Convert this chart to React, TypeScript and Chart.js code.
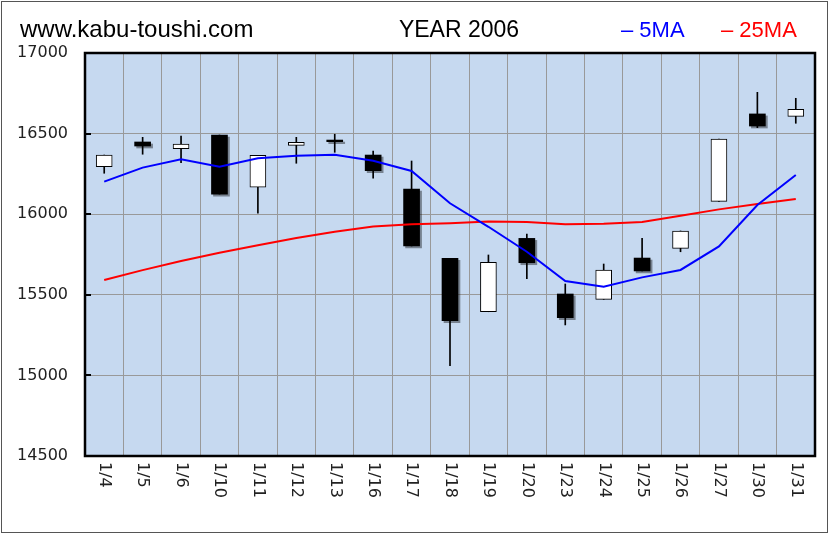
import React, { useEffect, useRef } from 'react';
import { Chart, registerables } from 'chart.js';

Chart.register(...registerables);

const categories = ['1/4', '1/5', '1/6', '1/10', '1/11', '1/12', '1/13', '1/16', '1/17', '1/18', '1/19', '1/20', '1/23', '1/24', '1/25', '1/26', '1/27', '1/30', '1/31'];
const openPrices = [16295, 16448, 16406, 16491, 16167, 16427, 16460, 16367, 16156, 15726, 15395, 15850, 15505, 15472, 15728, 15788, 16080, 16622, 16607];
const closePrices = [16367, 16423, 16435, 16125, 16365, 16446, 16450, 16270, 15803, 15339, 15702, 15699, 15358, 15654, 15648, 15896, 16466, 16547, 16651];
const highPrices = [16367, 16477, 16485, 16491, 16365, 16477, 16496, 16392, 16330, 15726, 15747, 15877, 15567, 15691, 15850, 15896, 16466, 16756, 16719];
const lowPrices = [16254, 16372, 16320, 16125, 16006, 16316, 16384, 16223, 15803, 15060, 15395, 15600, 15313, 15472, 15648, 15767, 16080, 16537, 16564];
const ma5 = [16202, 16289, 16341, 16295, 16347, 16363, 16369, 16332, 16268, 16068, 15922, 15767, 15586, 15550, 15608, 15654, 15800, 16057, 16243];
const ma25 = [15592, 15653, 15710, 15761, 15807, 15853, 15891, 15923, 15937, 15944, 15954, 15952, 15937, 15941, 15952, 15991, 16030, 16063, 16094];
const yTicks = [14500, 15000, 15500, 16000, 16500, 17000];

const siteTitle = 'www.kabu-toushi.com';
const chartTitle = 'YEAR 2006';
const legend5 = '– 5MA';
const legend25 = '– 25MA';

const W = 829;
const H = 534;

const decorPlugin = {
  id: 'decor',
  beforeDraw(chart: any) {
    const { ctx, chartArea: a } = chart;
    ctx.save();
    ctx.fillStyle = '#ffffff';
    ctx.fillRect(0, 0, chart.width, chart.height);
    ctx.fillStyle = '#c6d9f0';
    ctx.fillRect(a.left, a.top, a.right - a.left, a.bottom - a.top);
    ctx.restore();
  },
  beforeDatasetDraw(chart: any, args: any) {
    const ds = chart.data.datasets[args.index];
    if (ds.label === 'down') {
      const ctx = chart.ctx;
      ctx.save();
      ctx.shadowColor = 'rgba(0,0,0,0.4)';
      ctx.shadowOffsetX = 2;
      ctx.shadowOffsetY = 2;
      ctx.shadowBlur = 0;
    }
  },
  afterDatasetDraw(chart: any, args: any) {
    const ds = chart.data.datasets[args.index];
    if (ds.label === 'down') {
      chart.ctx.restore();
    }
  },
  afterDraw(chart: any) {
    const { ctx, chartArea: a, scales } = chart;
    const xs = scales.x;
    const ys = scales.y;
    ctx.save();
    // plot border
    ctx.strokeStyle = '#000000';
    ctx.lineWidth = 2.5;
    ctx.strokeRect(a.left, a.top, a.right - a.left, a.bottom - a.top);
    // inner tick marks on y axis
    ctx.lineWidth = 2;
    yTicks.forEach((v) => {
      const y = Math.round(ys.getPixelForValue(v));
      ctx.beginPath();
      ctx.moveTo(a.left, y);
      ctx.lineTo(a.left + 6, y);
      ctx.stroke();
    });
    // rotated x labels
    ctx.fillStyle = '#222222';
    ctx.font = '16px "DejaVu Sans"';
    ctx.textAlign = 'left';
    ctx.textBaseline = 'middle';
    categories.forEach((c, i) => {
      const x = xs.getPixelForValue(i);
      ctx.save();
      ctx.translate(x, a.bottom + 6);
      ctx.rotate(Math.PI / 2);
      ctx.fillText(c, 0, 0);
      ctx.restore();
    });
    // titles
    ctx.textBaseline = 'alphabetic';
    ctx.fillStyle = '#000000';
    ctx.font = '24px "Liberation Sans"';
    ctx.textAlign = 'left';
    ctx.fillText(siteTitle, 20, 37);
    ctx.font = '23px "Liberation Sans"';
    ctx.textAlign = 'center';
    ctx.fillText(chartTitle, 459, 37);
    ctx.font = '22px "Liberation Sans"';
    ctx.textAlign = 'left';
    ctx.fillStyle = '#0000ff';
    ctx.fillText(legend5, 621, 37);
    ctx.fillStyle = '#ff0000';
    ctx.fillText(legend25, 721, 37);
    // outer frame
    ctx.strokeStyle = '#555555';
    ctx.lineWidth = 1;
    ctx.strokeRect(1.5, 1.5, W - 3, H - 3);
    ctx.restore();
  },
};

export default function App() {
  const ref = useRef<HTMLCanvasElement | null>(null);

  useEffect(() => {
    if (!ref.current) return;
    const upBodies = categories.map((_, i) => (closePrices[i] >= openPrices[i] ? [openPrices[i], closePrices[i]] : null));
    const downBodies = categories.map((_, i) => (closePrices[i] < openPrices[i] ? [closePrices[i], openPrices[i]] : null));
    const wicks = categories.map((_, i) => [lowPrices[i], highPrices[i]]);

    const chart = new Chart(ref.current, {
      type: 'bar',
      data: {
        labels: categories,
        datasets: [
          {
            type: 'line',
            label: '5MA',
            data: ma5,
            borderColor: '#0000ff',
            borderWidth: 2,
            pointRadius: 0,
            tension: 0,
            order: 0,
          } as any,
          {
            type: 'line',
            label: '25MA',
            data: ma25,
            borderColor: '#ff0000',
            borderWidth: 2,
            pointRadius: 0,
            tension: 0,
            order: 0,
          } as any,
          {
            label: 'up',
            data: upBodies as any,
            backgroundColor: '#ffffff',
            borderColor: '#000000',
            borderWidth: 1,
            borderSkipped: false,
            barThickness: 16,
            grouped: false,
            order: 1,
          },
          {
            label: 'down',
            data: downBodies as any,
            backgroundColor: '#000000',
            borderWidth: 0,
            borderSkipped: false,
            barThickness: 16,
            grouped: false,
            order: 1,
          },
          {
            label: 'wick',
            data: wicks as any,
            backgroundColor: '#000000',
            borderWidth: 0,
            barThickness: 1,
            grouped: false,
            order: 2,
          },
        ],
      },
      options: {
        responsive: false,
        animation: false,
        devicePixelRatio: 1,
        layout: { padding: { top: 53, right: 14, bottom: 0, left: 0 } },
        plugins: {
          legend: { display: false },
          tooltip: { enabled: false },
          title: { display: false },
        },
        scales: {
          x: {
            type: 'category',
            offset: true,
            grid: { color: '#999999', lineWidth: 1, offset: true, drawTicks: false },
            border: { display: false },
            ticks: { display: false },
            afterFit: (s: any) => {
              s.height = 78;
            },
          },
          y: {
            type: 'linear',
            min: 14500,
            max: 17000,
            afterBuildTicks: (s: any) => {
              s.ticks = yTicks.map((v) => ({ value: v }));
            },
            ticks: {
              color: '#222222',
              font: { family: '"DejaVu Sans"', size: 16 },
              padding: 17,
              callback: (v: any) => String(v),
            },
            grid: { color: '#999999', lineWidth: 1, drawTicks: false },
            border: { display: false },
            afterFit: (s: any) => {
              s.width = 85;
            },
          },
        },
      },
      plugins: [decorPlugin],
    });
    return () => chart.destroy();
  }, []);

  return (
    <div style={{ position: 'absolute', left: 0, top: 0, width: W, height: H }}>
      <canvas ref={ref} width={W} height={H} style={{ width: W, height: H, display: 'block' }} />
    </div>
  );
}
